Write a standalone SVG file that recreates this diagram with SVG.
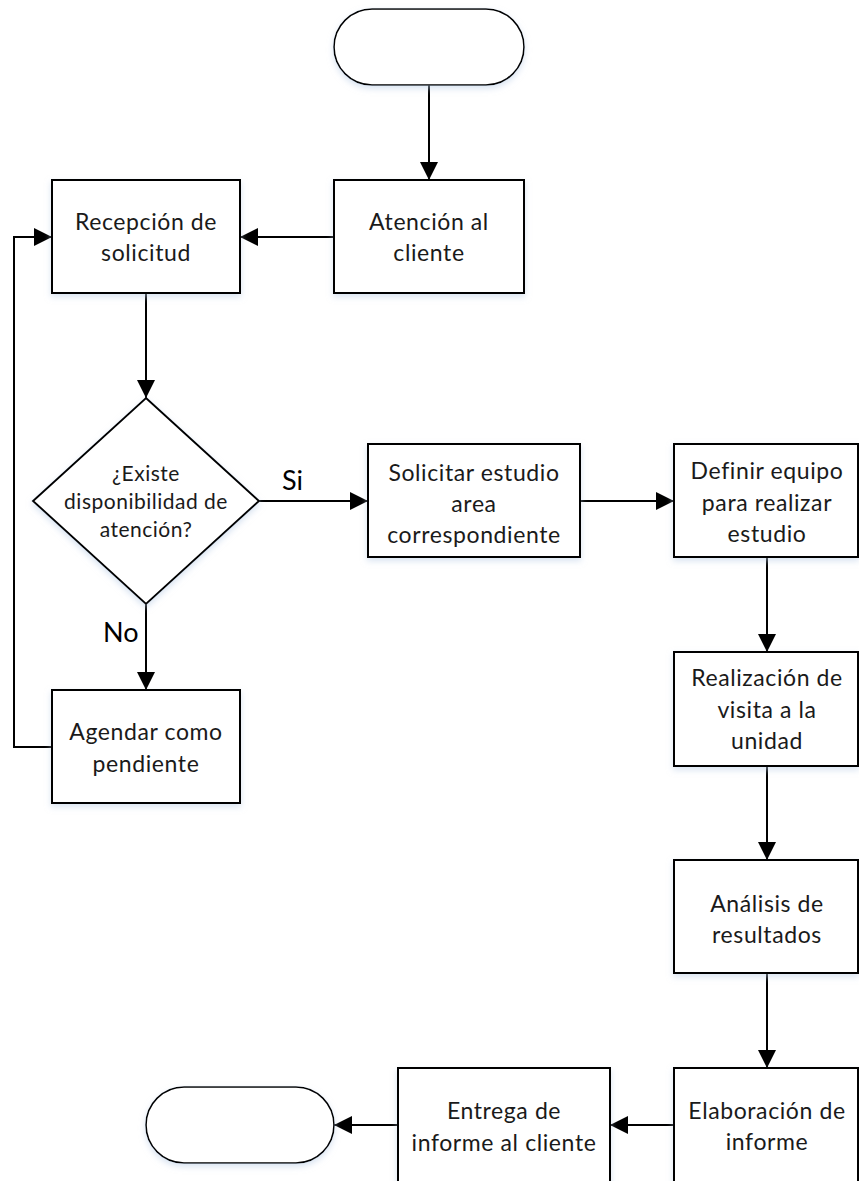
<svg xmlns="http://www.w3.org/2000/svg" width="859" height="1181" viewBox="0 0 859 1181">
  <style>
    .shape { fill: #ffffff; stroke: #000000; stroke-width: 2; filter: url(#soft); }
    .term { fill: #ffffff; stroke: #000000; stroke-width: 1.6; filter: url(#soft); }
    .lbl { font-family: Lato, "Liberation Sans", sans-serif; font-size: 23px; letter-spacing: 0.6px; fill: #1a1a1a; text-anchor: middle; }
    .dlbl { font-family: Lato, "Liberation Sans", sans-serif; font-size: 21px; letter-spacing: 0.5px; fill: #1a1a1a; text-anchor: middle; }
    .edge-label { font-family: Lato, "Liberation Sans", sans-serif; font-size: 27px; fill: #000000; }
    .conn { fill: none; stroke: #000000; stroke-width: 2; marker-end: url(#arrow); }
  </style>
  <defs>
    <filter id="soft" x="-10%" y="-10%" width="120%" height="130%">
      <feDropShadow dx="0" dy="3" stdDeviation="3" flood-color="#b9cde6" flood-opacity="0.55"/>
    </filter>
    <marker id="arrow" viewBox="0 0 18 18" refX="18" refY="9" markerWidth="18" markerHeight="18" markerUnits="userSpaceOnUse" orient="auto">
      <path d="M0,0 L18,9 L0,18 Z" fill="#000000"/>
    </marker>
  </defs>

  <rect width="859" height="1181" fill="#ffffff"/>

  <!-- connectors -->
  <g id="connectors">
    <path class="conn" d="M429,85 L429,180"/>
    <path class="conn" d="M334,237 L240,237"/>
    <path class="conn" d="M146,293 L146,398"/>
    <path class="conn" d="M259,501 L368,501"/>
    <path class="conn" d="M146,604 L146,690"/>
    <path class="conn" d="M52,747 L14,747 L14,237 L52,237"/>
    <path class="conn" d="M580,501 L674,501"/>
    <path class="conn" d="M767,557 L767,652"/>
    <path class="conn" d="M767,766 L767,860"/>
    <path class="conn" d="M767,973 L767,1068"/>
    <path class="conn" d="M674,1125 L610,1125"/>
    <path class="conn" d="M398,1125 L334,1125"/>
    <text class="edge-label" x="282" y="490">Si</text>
    <text class="edge-label" x="103" y="642">No</text>
  </g>

  <!-- start terminal -->
  <g id="start">
    <rect class="term" x="334" y="9" width="190" height="76" rx="38" ry="38"/>
  </g>

  <g id="atencion">
    <rect class="shape" x="334" y="180" width="190" height="113"/>
    <text class="lbl" x="429" y="230">Atención al</text>
    <text class="lbl" x="429" y="261">cliente</text>
  </g>

  <g id="recepcion">
    <rect class="shape" x="52" y="180" width="188" height="113"/>
    <text class="lbl" x="146" y="230">Recepción de</text>
    <text class="lbl" x="146" y="261">solicitud</text>
  </g>

  <g id="decision">
    <polygon class="shape" points="146,398 259,501 146,604 33,501"/>
    <text class="dlbl" x="146" y="481">¿Existe</text>
    <text class="dlbl" x="146" y="509">disponibilidad de</text>
    <text class="dlbl" x="146" y="537">atención?</text>
  </g>

  <g id="agendar">
    <rect class="shape" x="52" y="690" width="188" height="113"/>
    <text class="lbl" x="146" y="740">Agendar como</text>
    <text class="lbl" x="146" y="772">pendiente</text>
  </g>

  <g id="solicitar">
    <rect class="shape" x="368" y="444" width="212" height="113"/>
    <text class="lbl" x="474" y="481">Solicitar estudio</text>
    <text class="lbl" x="474" y="512">area</text>
    <text class="lbl" x="474" y="543">correspondiente</text>
  </g>

  <g id="definir">
    <rect class="shape" x="674" y="444" width="184" height="113"/>
    <text class="lbl" x="767" y="479">Definir equipo</text>
    <text class="lbl" x="767" y="511">para realizar</text>
    <text class="lbl" x="767" y="542">estudio</text>
  </g>

  <g id="realizacion">
    <rect class="shape" x="674" y="652" width="184" height="114"/>
    <text class="lbl" x="767" y="686">Realización de</text>
    <text class="lbl" x="767" y="718">visita a la</text>
    <text class="lbl" x="767" y="749">unidad</text>
  </g>

  <g id="analisis">
    <rect class="shape" x="674" y="860" width="184" height="113"/>
    <text class="lbl" x="767" y="912">Análisis de</text>
    <text class="lbl" x="767" y="943">resultados</text>
  </g>

  <g id="elaboracion">
    <rect class="shape" x="674" y="1068" width="184" height="120"/>
    <text class="lbl" x="767" y="1119">Elaboración de</text>
    <text class="lbl" x="767" y="1150">informe</text>
  </g>

  <g id="entrega">
    <rect class="shape" x="398" y="1068" width="212" height="120"/>
    <text class="lbl" x="504" y="1119">Entrega de</text>
    <text class="lbl" x="504" y="1151">informe al cliente</text>
  </g>

  <!-- end terminal -->
  <g id="end">
    <rect class="term" x="146" y="1087" width="188" height="76" rx="38" ry="38"/>
  </g>
</svg>
